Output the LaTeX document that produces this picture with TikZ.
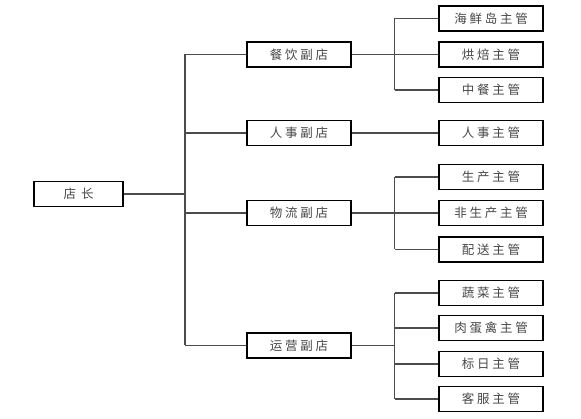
\documentclass[tikz,border=0pt]{standalone}
\usepackage{fontspec}
\newfontfamily\cjk[LetterSpace=22]{Noto Sans CJK SC}
\begin{document}
\begin{tikzpicture}[x=1pt,y=1pt,
  box/.style={draw=black,line width=1.2pt,fill=white,minimum height=25pt,inner sep=0pt,
    font=\cjk\fontsize{12.5}{14}\selectfont,text=black!72},
  b1/.style={box,minimum width=89pt},
  b2/.style={box,minimum width=104pt},
  b3/.style={box,minimum width=104pt},
  conn/.style={draw=black!70,line width=1.2pt}]
\useasboundingbox (0,0) rectangle (581,419);
% level 1
\node[b1] (dz) at (78.5,{419-194}) {店\hspace{5pt}长};
% level 2
\node[b2] (cy) at (299,{419-54.5}) {餐饮副店};
\node[b2] (rs) at (299,{419-133}) {人事副店};
\node[b2] (wl) at (299,{419-213}) {物流副店};
\node[b2] (yy) at (299,{419-345.5}) {运营副店};
% level 3
\node[b3] (hx) at (491,{419-18.5}) {海鲜岛主管};
\node[b3] (hb) at (491,{419-54.5}) {烘焙主管};
\node[b3] (zc) at (491,{419-90}) {中餐主管};
\node[b3] (rz) at (491,{419-133}) {人事主管};
\node[b3] (sc) at (491,{419-177}) {生产主管};
\node[b3] (fs) at (491,{419-213}) {非生产主管};
\node[b3] (ps) at (491,{419-249.5}) {配送主管};
\node[b3] (sl) at (491,{419-293}) {蔬菜主管};
\node[b3] (rd) at (491,{419-328}) {肉蛋禽主管};
\node[b3] (br) at (491,{419-364}) {标日主管};
\node[b3] (kf) at (491,{419-399}) {客服主管};
% bus coordinates
\coordinate (t1) at (185,0);
\coordinate (t2) at (394.5,0);
% trunk
\draw[conn] (dz.east) -- (dz.east -| t1);
\draw[conn] (cy.west -| t1) -- (yy.west -| t1);
\foreach \n in {cy,rs,wl,yy} \draw[conn] (\n.west -| t1) -- (\n.west);
% 餐饮
\draw[conn] (cy.east) -- (cy.east -| t2);
\draw[conn] (hx.west -| t2) -- (zc.west -| t2);
\foreach \n in {hx,hb,zc} \draw[conn] (\n.west -| t2) -- (\n.west);
% 人事
\draw[conn] (rs.east) -- (rz.west);
% 物流
\draw[conn] (wl.east) -- (wl.east -| t2);
\draw[conn] (sc.west -| t2) -- (ps.west -| t2);
\foreach \n in {sc,fs,ps} \draw[conn] (\n.west -| t2) -- (\n.west);
% 运营
\draw[conn] (yy.east) -- (yy.east -| t2);
\draw[conn] (sl.west -| t2) -- (kf.west -| t2);
\foreach \n in {sl,rd,br,kf} \draw[conn] (\n.west -| t2) -- (\n.west);
\end{tikzpicture}
\end{document}
